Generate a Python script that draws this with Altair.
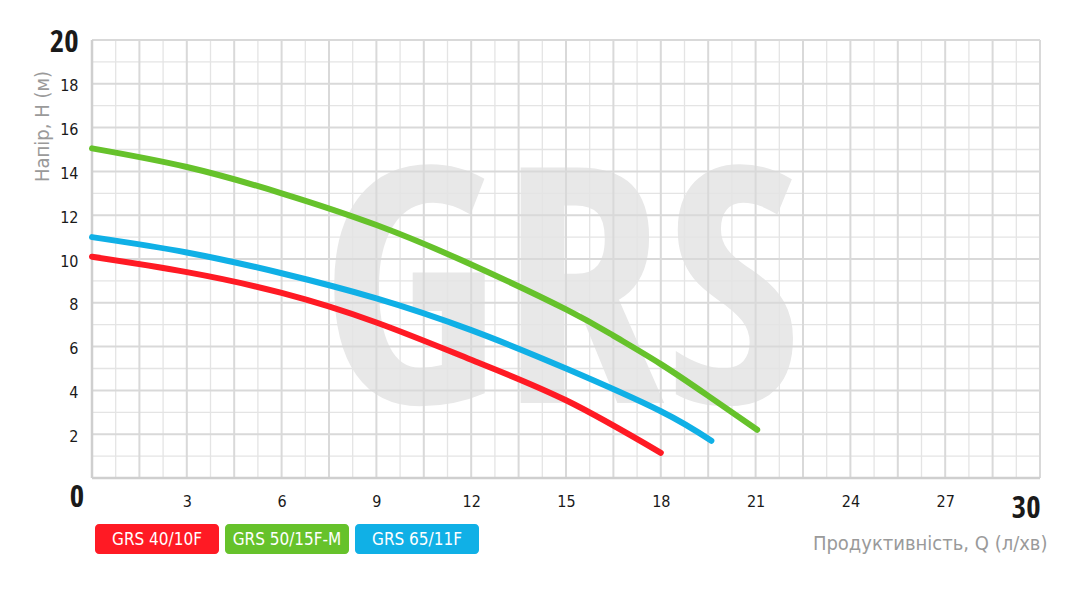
import altair as alt
import pandas as pd
import numpy as np

# ---- values ----
series_names = ["GRS 40/10F", "GRS 50/15F-M", "GRS 65/11F"]
series_colors = ["#ff1a24", "#66c22b", "#10b0e6"]

q_red = [0, 3, 6, 9, 12, 15, 18]
h_red = [10.1, 9.4, 8.45, 7.1, 5.4, 3.55, 1.15]

q_green = [0, 3, 6, 9, 12, 15, 16.5, 18, 19.5, 21.05]
h_green = [15.05, 14.2, 13.0, 11.55, 9.75, 7.7, 6.5, 5.2, 3.75, 2.2]

q_blue = [0, 3, 6, 9, 12, 15, 18, 19.6]
h_blue = [11.0, 10.3, 9.35, 8.2, 6.75, 5.0, 3.05, 1.7]

x_ticks = [3, 6, 9, 12, 15, 18, 21, 24, 27, 30]
y_ticks = [2, 4, 6, 8, 10, 12, 14, 16, 18, 20]

x_title = "Продуктивність, Q (л/хв)"
y_title = "Напір, Н (м)"
watermark = "GRS"

FONT = "DejaVu Sans Condensed, sans-serif"
BOLD = "Open Sans Condensed, DejaVu Sans Condensed, sans-serif"

# ---- tables ----
rows = []
for name, qs, hs in [(series_names[0], q_red, h_red),
                     (series_names[1], q_green, h_green),
                     (series_names[2], q_blue, h_blue)]:
    for i, (q, h) in enumerate(zip(qs, hs)):
        rows.append({"series": name, "Q": q, "H": h, "i": i})
curves = pd.DataFrame(rows)

xs = alt.Scale(domain=[0, 30], nice=False, zero=False)
ys = alt.Scale(domain=[0, 20], nice=False, zero=False)

vx = np.round(np.arange(0, 30.001, 0.75), 2)
hy = np.arange(0, 21, 1)
vgrid = pd.DataFrame({"gx": vx, "major": [abs((v / 1.5) - round(v / 1.5)) < 1e-6 for v in vx]})
hgrid = pd.DataFrame({"gy": hy, "major": [int(v) % 2 == 0 for v in hy]})

GRID_MINOR = "#e4e4e4"
GRID_MAJOR = "#d9d9d9"

lines = alt.Chart(curves).mark_line(
    strokeWidth=6, strokeCap="round", strokeJoin="round", interpolate="natural"
).encode(
    x=alt.X("Q:Q", scale=xs, axis=alt.Axis(
        values=x_ticks, grid=False, ticks=False, domain=False,
        labelFont={"condition": {"test": "datum.value == 30", "value": BOLD}, "value": FONT},
        labelColor="#1a1a1a",
        labelFontSize={"condition": {"test": "datum.value == 30", "value": 31}, "value": 16},
        labelFontWeight={"condition": {"test": "datum.value == 30", "value": "bold"}, "value": "normal"},
        labelAlign={"condition": {"test": "datum.value == 30", "value": "right"}, "value": "center"},
        labelBaseline="top", labelPadding=15, labelFlush=False, labelOverlap=False,
        title=x_title, titleFont=FONT, titleFontSize=20, titleFontWeight="normal",
        titleColor="#9a9a9a", titleAlign="right", titleBaseline="middle",
        titleX=955, titleY=65, titleAngle=0,
    )),
    y=alt.Y("H:Q", scale=ys, axis=alt.Axis(
        values=y_ticks, grid=False, ticks=False, domain=False,
        labelFont={"condition": {"test": "datum.value == 20", "value": BOLD}, "value": FONT},
        labelColor="#1a1a1a",
        labelFontSize={"condition": {"test": "datum.value == 20", "value": 31}, "value": 16},
        labelFontWeight={"condition": {"test": "datum.value == 20", "value": "bold"}, "value": "normal"},
        labelAlign="right", labelBaseline="middle", labelPadding=14, labelOffset=2,
        labelFlush=False, labelOverlap=False,
        title=y_title, titleFont=FONT, titleFontSize=20, titleFontWeight="normal",
        titleColor="#9a9a9a", titleAlign="center", titleBaseline="middle",
        titleX=-50, titleY=86, titleAngle=270,
    )),
    color=alt.Color("series:N", scale=alt.Scale(domain=series_names, range=series_colors), legend=None),
    order="i:Q",
)

wm = alt.Chart(pd.DataFrame({"t": [watermark]})).mark_text(
    font=BOLD, fontSize=330, fontWeight="bold",
    color="#e8e8e8", align="center", baseline="alphabetic"
).encode(x=alt.XDatum(14.84, scale=xs), y=alt.YDatum(3.42, scale=ys), text="t:N")

vminor = alt.Chart(vgrid[~vgrid.major]).mark_rule(color=GRID_MINOR, strokeWidth=1.3).encode(
    x=alt.X("gx:Q", scale=xs))
vmajor = alt.Chart(vgrid[vgrid.major]).mark_rule(color=GRID_MAJOR, strokeWidth=2).encode(
    x=alt.X("gx:Q", scale=xs))
hminor = alt.Chart(hgrid[~hgrid.major]).mark_rule(color=GRID_MINOR, strokeWidth=1.3).encode(
    y=alt.Y("gy:Q", scale=ys))
hmajor = alt.Chart(hgrid[hgrid.major]).mark_rule(color=GRID_MAJOR, strokeWidth=2).encode(
    y=alt.Y("gy:Q", scale=ys))
border_l = alt.Chart(pd.DataFrame({"gx": [0]})).mark_rule(color="#cfcfcf", strokeWidth=2.5).encode(
    x=alt.X("gx:Q", scale=xs))
border_b = alt.Chart(pd.DataFrame({"gy": [0]})).mark_rule(color="#cfcfcf", strokeWidth=2.5).encode(
    y=alt.Y("gy:Q", scale=ys))

zero = alt.Chart(pd.DataFrame({"t": ["0"]})).mark_text(
    font=BOLD, fontSize=31, fontWeight="bold", color="#1a1a1a",
    align="center", baseline="middle", dx=-15, dy=20
).encode(x=alt.XDatum(0, scale=xs), y=alt.YDatum(0, scale=ys), text="t:N")

layers = [wm, vminor, hminor, vmajor, hmajor, border_l, border_b, zero]

# legend boxes below the plot
for i, (name, col) in enumerate(zip(series_names, series_colors)):
    left = 3 + 130 * i
    d = pd.DataFrame({"s": [name]})
    layers.append(alt.Chart(d).mark_rect(color=col, cornerRadius=4).encode(
        x=alt.value(left), x2=alt.value(left + 124), y=alt.value(484), y2=alt.value(514)))
    layers.append(alt.Chart(d).mark_text(
        font=FONT, fontSize=17, color="white", align="center", baseline="middle"
    ).encode(x=alt.value(left + 62), y=alt.value(500), text="s:N"))

layers.append(lines)

chart = alt.layer(*layers).properties(
    width=948, height=438,
    autosize=alt.AutoSizeParams(type="none"),
    padding={"left": 84, "top": 32, "right": 41, "bottom": 100},
    background="white",
).configure_view(stroke=None)

chart.save("out.html", embed_options={"renderer": "svg", "actions": False})
